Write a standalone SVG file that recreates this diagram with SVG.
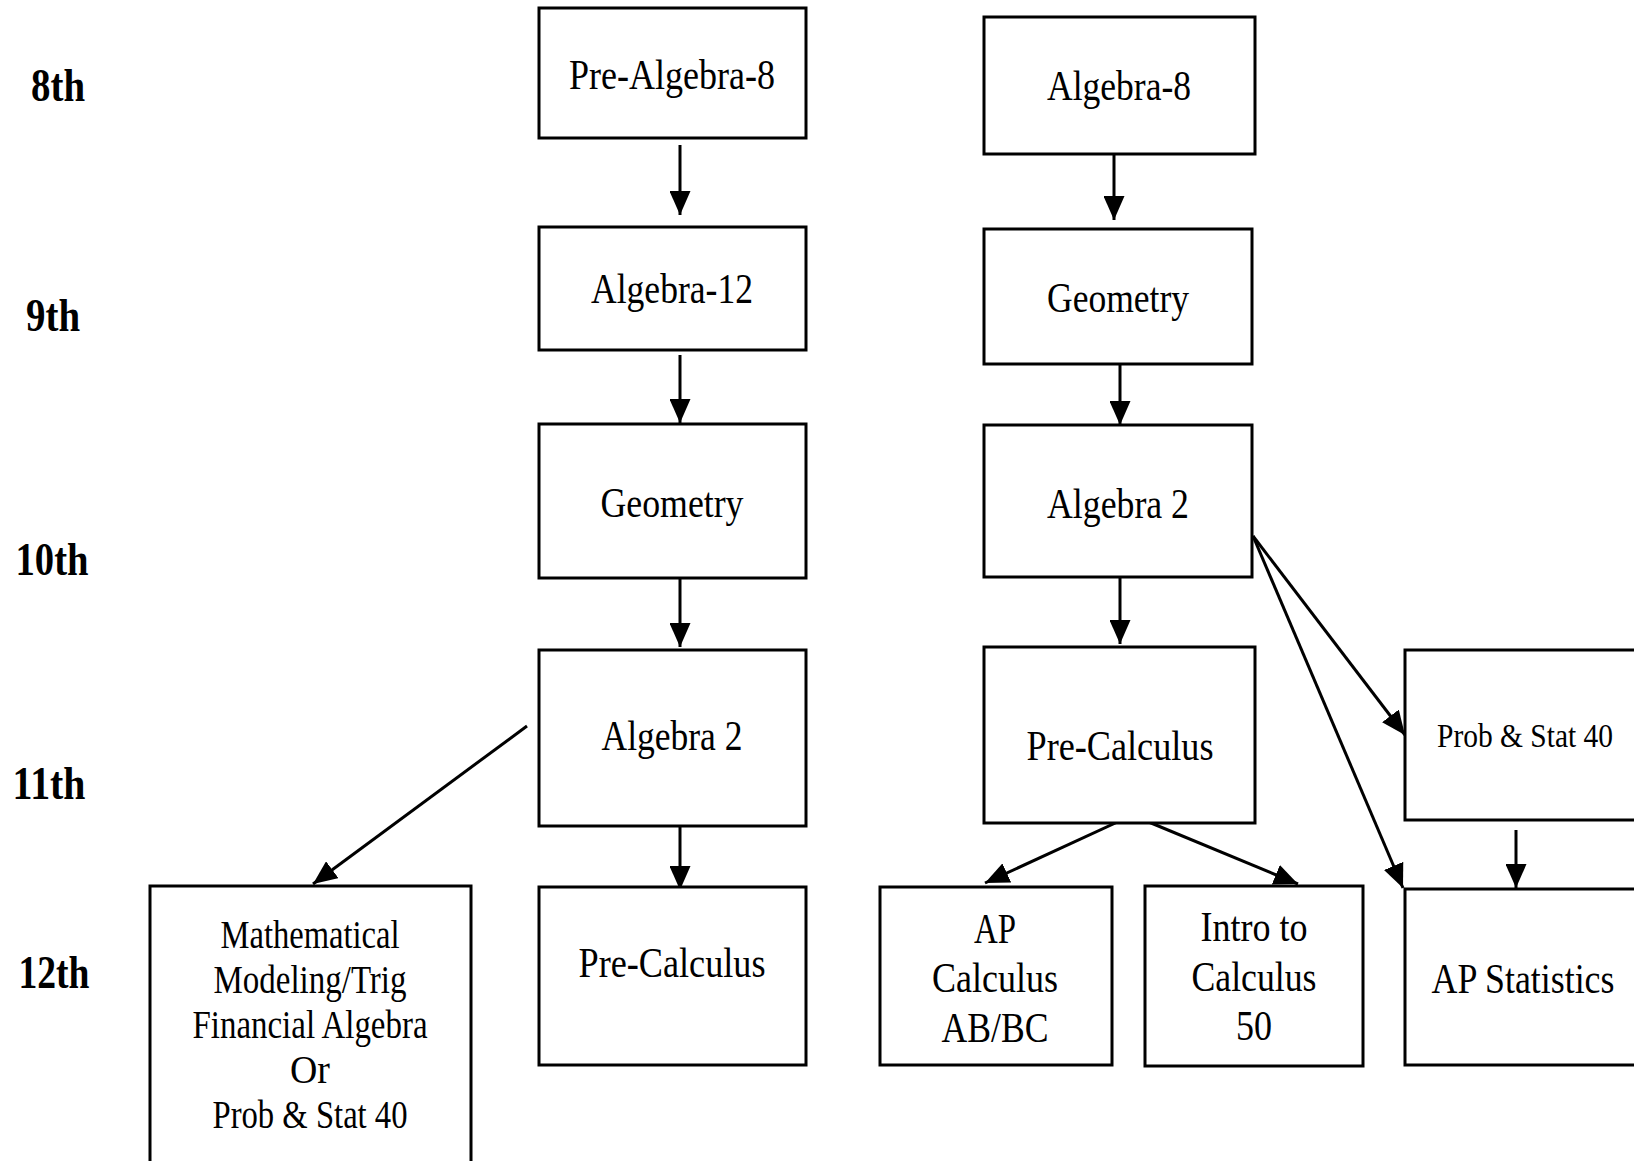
<svg xmlns="http://www.w3.org/2000/svg" width="1634" height="1161" viewBox="0 0 1634 1161">
<style>
.box{fill:#fff;stroke:#000;stroke-width:3}
.t{font-family:"Liberation Serif","Times New Roman",serif;font-size:42px;fill:#000;text-anchor:middle}
.s{font-size:40px}
.p{font-size:33px}
.g{font-family:"Liberation Serif","Times New Roman",serif;font-size:46px;font-weight:bold;fill:#000;text-anchor:middle}
.c{stroke:#000;stroke-width:3;fill:none;marker-end:url(#ah)}
</style>
<defs>
<marker id="ah" markerUnits="userSpaceOnUse" markerWidth="25" markerHeight="21" refX="24" refY="10.5" orient="auto">
<path d="M0,0 L24,10.5 L0,21 z" fill="#000"/>
</marker>
</defs>
<rect width="1634" height="1161" fill="#fff"/>
<g id="grades">
<text class="g" x="58" y="101" textLength="54" lengthAdjust="spacingAndGlyphs">8th</text>
<text class="g" x="53" y="331" textLength="54" lengthAdjust="spacingAndGlyphs">9th</text>
<text class="g" x="52" y="575" textLength="73" lengthAdjust="spacingAndGlyphs">10th</text>
<text class="g" x="49" y="799" textLength="73" lengthAdjust="spacingAndGlyphs">11th</text>
<text class="g" x="54" y="988" textLength="71" lengthAdjust="spacingAndGlyphs">12th</text>
</g>
<g id="connectors">
<line class="c" x1="680" y1="145" x2="680" y2="215"/>
<line class="c" x1="680" y1="355" x2="680" y2="423"/>
<line class="c" x1="680" y1="579" x2="680" y2="647"/>
<line class="c" x1="680" y1="821" x2="680" y2="890"/>
<line class="c" x1="527" y1="726" x2="313" y2="884"/>
<line class="c" x1="1114" y1="151" x2="1114" y2="220"/>
<line class="c" x1="1120" y1="358" x2="1120" y2="425"/>
<line class="c" x1="1120" y1="573" x2="1120" y2="644"/>
<line class="c" x1="1137" y1="813" x2="985" y2="883"/>
<line class="c" x1="1139" y1="818" x2="1298" y2="884"/>
<line class="c" x1="1253" y1="536" x2="1405" y2="735"/>
<line class="c" x1="1253" y1="536" x2="1403" y2="888"/>
<line class="c" x1="1516" y1="830" x2="1516" y2="888"/>
</g>
<g id="pre_algebra_8">
<rect class="box" x="539" y="8" width="267" height="130"/>
<text class="t" x="672" y="89" textLength="206" lengthAdjust="spacingAndGlyphs">Pre-Algebra-8</text>
</g>
<g id="algebra_12">
<rect class="box" x="539" y="227" width="267" height="123"/>
<text class="t" x="672" y="303" textLength="162" lengthAdjust="spacingAndGlyphs">Algebra-12</text>
</g>
<g id="geometry_left">
<rect class="box" x="539" y="424" width="267" height="154"/>
<text class="t" x="672" y="517" textLength="143" lengthAdjust="spacingAndGlyphs">Geometry</text>
</g>
<g id="algebra2_left">
<rect class="box" x="539" y="650" width="267" height="176"/>
<text class="t" x="672" y="750" textLength="141" lengthAdjust="spacingAndGlyphs">Algebra 2</text>
</g>
<g id="precalc_left">
<rect class="box" x="539" y="887" width="267" height="178"/>
<text class="t" x="672" y="977" textLength="187" lengthAdjust="spacingAndGlyphs">Pre-Calculus</text>
</g>
<g id="math_options">
<rect class="box" x="150" y="886" width="321" height="300"/>
<text class="t s" x="310" y="948" textLength="179" lengthAdjust="spacingAndGlyphs">Mathematical</text>
<text class="t s" x="310" y="993" textLength="193" lengthAdjust="spacingAndGlyphs">Modeling/Trig</text>
<text class="t s" x="310" y="1038" textLength="235" lengthAdjust="spacingAndGlyphs">Financial Algebra</text>
<text class="t s" x="310" y="1083" textLength="40" lengthAdjust="spacingAndGlyphs">Or</text>
<text class="t s" x="310" y="1128" textLength="195" lengthAdjust="spacingAndGlyphs">Prob &amp; Stat 40</text>
</g>
<g id="algebra_8">
<rect class="box" x="984" y="17" width="271" height="137"/>
<text class="t" x="1119" y="100" textLength="144" lengthAdjust="spacingAndGlyphs">Algebra-8</text>
</g>
<g id="geometry_right">
<rect class="box" x="984" y="229" width="268" height="135"/>
<text class="t" x="1118" y="312" textLength="142" lengthAdjust="spacingAndGlyphs">Geometry</text>
</g>
<g id="algebra2_right">
<rect class="box" x="984" y="425" width="268" height="152"/>
<text class="t" x="1118" y="518" textLength="142" lengthAdjust="spacingAndGlyphs">Algebra 2</text>
</g>
<g id="precalc_right">
<rect class="box" x="984" y="647" width="271" height="176"/>
<text class="t" x="1120" y="760" textLength="187" lengthAdjust="spacingAndGlyphs">Pre-Calculus</text>
</g>
<g id="ap_calculus">
<rect class="box" x="880" y="887" width="232" height="178"/>
<text class="t" x="995" y="943" textLength="42" lengthAdjust="spacingAndGlyphs">AP</text>
<text class="t" x="995" y="992" textLength="126" lengthAdjust="spacingAndGlyphs">Calculus</text>
<text class="t" x="995" y="1042" textLength="107" lengthAdjust="spacingAndGlyphs">AB/BC</text>
</g>
<g id="intro_calculus">
<rect class="box" x="1145" y="886" width="218" height="180"/>
<text class="t" x="1254" y="941" textLength="107" lengthAdjust="spacingAndGlyphs">Intro to</text>
<text class="t" x="1254" y="991" textLength="125" lengthAdjust="spacingAndGlyphs">Calculus</text>
<text class="t" x="1254" y="1040" textLength="36" lengthAdjust="spacingAndGlyphs">50</text>
</g>
<g id="prob_stat_right">
<rect class="box" x="1405" y="650" width="245" height="170"/>
<text class="t p" x="1525" y="747" textLength="176" lengthAdjust="spacingAndGlyphs">Prob &amp; Stat 40</text>
</g>
<g id="ap_statistics">
<rect class="box" x="1405" y="889" width="245" height="176"/>
<text class="t" x="1523" y="993" textLength="183" lengthAdjust="spacingAndGlyphs">AP Statistics</text>
</g>
</svg>
